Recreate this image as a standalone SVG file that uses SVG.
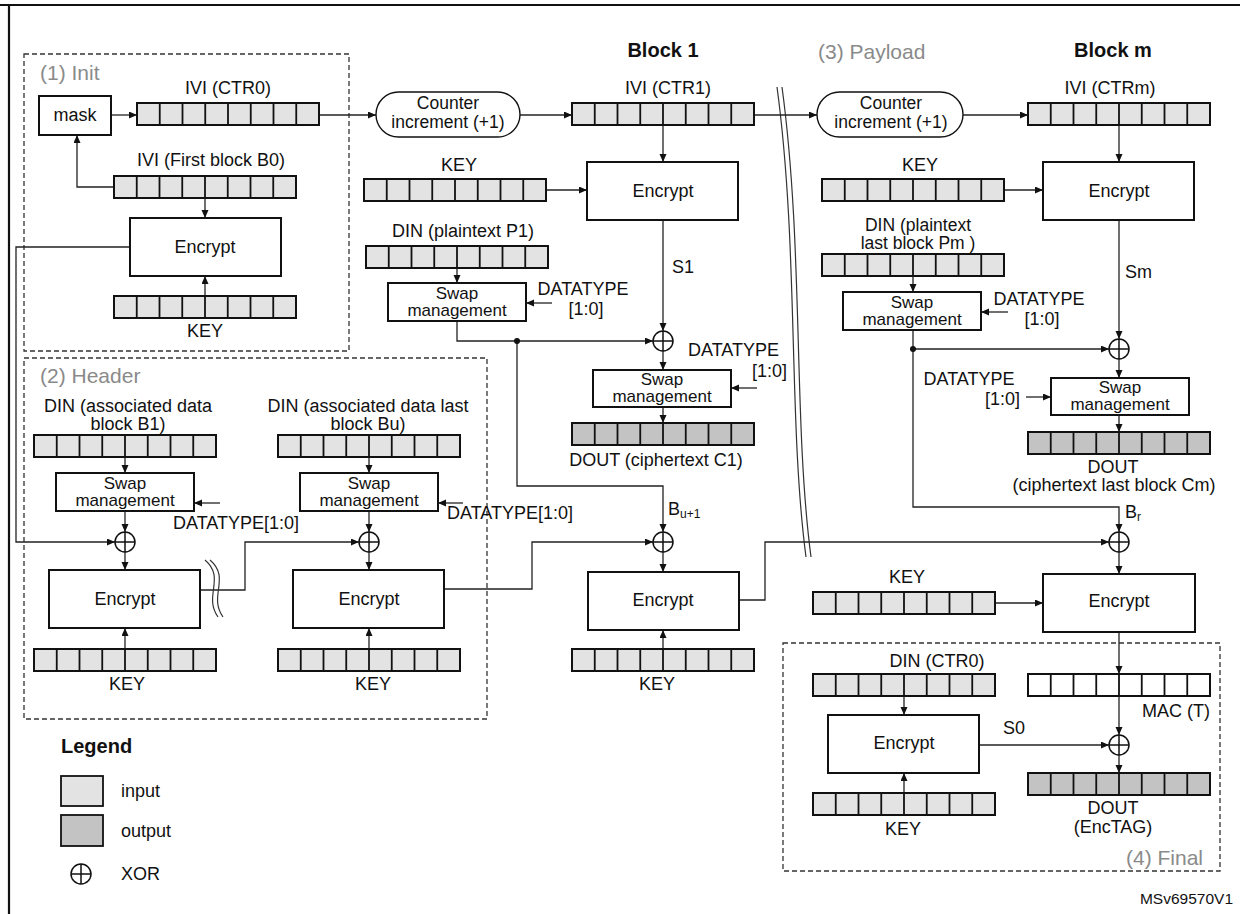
<svg xmlns="http://www.w3.org/2000/svg" xmlns:xlink="http://www.w3.org/1999/xlink" width="1240" height="914" viewBox="0 0 1240 914">
<style>
text{font-family:"Liberation Sans",Arial,sans-serif;font-size:18px;fill:#111}
.c{text-anchor:middle}
.e{text-anchor:end}
.sec{font-size:21px;fill:#8a8a8a}
.b{font-weight:bold;font-size:20px}
.sw{font-size:17px}
.ci{font-size:17.5px}
.box{fill:#fff;stroke:#111;stroke-width:2}
.dash{fill:none;stroke:#333;stroke-width:1.3;stroke-dasharray:5 3}
.con path{fill:none;stroke:#222;stroke-width:1.3}
.arr{marker-end:url(#ah)}
.brk{fill:none;stroke:#333;stroke-width:1.2}
</style>
<defs>
<marker id="ah" markerUnits="userSpaceOnUse" markerWidth="9" markerHeight="8" refX="8" refY="3.5" orient="auto">
<path d="M0,0 L8,3.5 L0,7 z" fill="#111"/>
</marker>
<path id="cells" d="M22.75,0V22M45.5,0V22M68.25,0V22M91,0V22M113.75,0V22M136.5,0V22M159.25,0V22" stroke="#111" stroke-width="1.8" fill="none"/>
<g id="regIn"><rect x="0" y="0" width="182" height="22" fill="#e3e3e3" stroke="#111" stroke-width="2"/><use href="#cells"/></g>
<g id="regOut"><rect x="0" y="0" width="182" height="22" fill="#c3c3c3" stroke="#111" stroke-width="2"/><use href="#cells"/></g>
<g id="regW"><rect x="0" y="0" width="182" height="22" fill="#fff" stroke="#111" stroke-width="2"/><use href="#cells"/></g>
<g id="xor"><circle cx="0" cy="0" r="10" fill="#fff" stroke="#111" stroke-width="1.5"/><path d="M-10,0H10M0,-10V10" stroke="#111" stroke-width="1.5"/></g>
</defs>
<rect width="1240" height="914" fill="#fff"/>
<!-- frame -->
<path d="M0,5H1240M9,5V914" stroke="#111" stroke-width="2.2" fill="none"/>

<!-- section frames -->
<g id="sec-init"><rect class="dash" x="24" y="54" width="325" height="297"/><text class="sec" x="40" y="80">(1) Init</text></g>
<g id="sec-header"><rect class="dash" x="24" y="358" width="463" height="361"/><text class="sec" x="40" y="383">(2) Header</text></g>
<g id="sec-payload"><text class="sec" x="818" y="59">(3) Payload</text></g>
<g id="sec-final"><rect class="dash" x="783" y="643" width="437" height="228"/><text class="sec e" x="1203" y="865">(4) Final</text></g>
<g id="hdr-block1"><text class="b c" x="663" y="57">Block 1</text></g>
<g id="hdr-blockm"><text class="b c" x="1113" y="57">Block m</text></g>

<!-- break marks -->
<g id="break-payload">
<path class="brk" d="M777,87 C799,250 788,420 806,557"/>
<path class="brk" d="M782,87 C804,250 793,420 811,557"/>
</g>

<!-- connectors -->
<g id="connectors" class="con">
<path class="arr" d="M111,115H137"/>
<path class="arr" d="M114,187H77V135"/>
<path class="arr" d="M205,198V218"/>
<path class="arr" d="M205,296V276"/>
<path class="arr" d="M319,115H376"/>
<path class="arr" d="M520,115H572"/>
<path class="arr" d="M663,125V162"/>
<path class="arr" d="M546,190H587"/>
<path class="arr" d="M457,268V283"/>
<path class="arr" d="M552,303H526"/>
<path class="arr" d="M663,220V331"/>
<path class="arr" d="M457,321V341H653"/>
<path class="arr" d="M663,351V370"/>
<path class="arr" d="M757,388H731"/>
<path class="arr" d="M663,407V423"/>
<path class="arr" d="M517,341V486H663V532"/>
<path class="arr" d="M444,589H532V542H653"/>
<path class="arr" d="M663,552V572"/>
<path class="arr" d="M663,649V630"/>
<path class="arr" d="M739,600H765V542H1109"/>
<path class="arr" d="M754,115H817"/>
<path class="arr" d="M963,115H1028"/>
<path class="arr" d="M1119,125V162"/>
<path class="arr" d="M1004,190H1043"/>
<path class="arr" d="M913,276V292"/>
<path class="arr" d="M1008,312H981"/>
<path class="arr" d="M1119,220V339"/>
<path class="arr" d="M913,330V349H1109"/>
<path class="arr" d="M1119,359V378"/>
<path class="arr" d="M1026,397H1051"/>
<path class="arr" d="M1119,415V432"/>
<path class="arr" d="M913,349V507H1119V532"/>
<path class="arr" d="M1119,552V574"/>
<path class="arr" d="M995,603H1043"/>
<path class="arr" d="M1119,632V674"/>
<path class="arr" d="M1119,696V735"/>
<path class="arr" d="M904,696V715"/>
<path class="arr" d="M904,793V773"/>
<path class="arr" d="M979,745H1109"/>
<path class="arr" d="M1119,755V773"/>
<path class="arr" d="M130,247H16V542H115"/>
<path class="arr" d="M125,457V473"/>
<path class="arr" d="M220,503H194"/>
<path class="arr" d="M125,511V532"/>
<path class="arr" d="M125,552V570"/>
<path class="arr" d="M125,649V628"/>
<path class="arr" d="M200,590H245V542H359"/>
<path class="arr" d="M369,457V473"/>
<path class="arr" d="M463,503H438"/>
<path class="arr" d="M369,511V532"/>
<path class="arr" d="M369,552V570"/>
<path class="arr" d="M369,649V628"/>
<circle cx="517" cy="341" r="3" fill="#111"/>
<circle cx="913" cy="349" r="3" fill="#111"/>
<text x="672" y="273">S1</text>
<text x="1125" y="278">Sm</text>
<text x="1003" y="734">S0</text>
<text x="668" y="515">B<tspan font-size="12" dy="3">u+1</tspan></text>
<text x="1125" y="518">B<tspan font-size="12" dy="3">r</tspan></text>
</g>

<g id="break-header">
<path class="brk" d="M205,560 C226,578 203,596 218,617"/>
<path class="brk" d="M210,560 C231,578 208,596 223,617"/>
</g>

<!-- Init -->
<g id="mask"><rect class="box" x="39" y="96" width="72" height="39"/><text class="c" x="75" y="121">mask</text></g>
<g id="ivi-ctr0"><use href="#regIn" x="137" y="103"/><text class="c" x="228" y="94">IVI (CTR0)</text></g>
<g id="ivi-b0"><use href="#regIn" x="114" y="176"/><text class="c" x="211" y="166">IVI (First block B0)</text></g>
<g id="enc-init"><rect class="box" x="130" y="218" width="151" height="58"/><text class="c" x="205" y="253">Encrypt</text></g>
<g id="key-init"><use href="#regIn" x="114" y="296"/><text class="c" x="205" y="337">KEY</text></g>

<!-- Block 1 -->
<g id="ctr-inc-1"><rect class="box" x="376" y="92" width="144" height="45" rx="22.5" ry="22.5" style="stroke-width:1.4"/><text class="c ci" x="448" y="109">Counter</text><text class="c ci" x="448" y="128">increment (+1)</text></g>
<g id="ivi-ctr1"><use href="#regIn" x="572" y="103"/><text class="c" x="668" y="94">IVI (CTR1)</text></g>
<g id="key-1"><use href="#regIn" x="364" y="179"/><text class="c" x="459" y="171">KEY</text></g>
<g id="enc-1"><rect class="box" x="587" y="162" width="151" height="58"/><text class="c" x="663" y="197">Encrypt</text></g>
<g id="din-p1"><use href="#regIn" x="366" y="246"/><text class="c" x="463" y="237">DIN (plaintext P1)</text></g>
<g id="swap-p1"><rect class="box" x="388" y="283" width="138" height="38"/><text class="c sw" x="457" y="299">Swap</text><text class="c sw" x="457" y="316">management</text></g>
<g id="dt-p1"><text class="c" x="583" y="295">DATATYPE</text><text class="c" x="586" y="315">[1:0]</text></g>
<g id="xor-c1"><use href="#xor" x="663" y="341"/></g>
<g id="dt-c1"><text x="688" y="356">DATATYPE</text><text class="e" x="787" y="377">[1:0]</text></g>
<g id="swap-c1"><rect class="box" x="593" y="370" width="138" height="37"/><text class="c sw" x="662" y="385">Swap</text><text class="c sw" x="662" y="402">management</text></g>
<g id="dout-c1"><use href="#regOut" x="572" y="423"/><text class="c" x="656" y="466">DOUT (ciphertext C1)</text></g>
<g id="xor-bu1"><use href="#xor" x="663" y="542"/></g>
<g id="enc-bu1"><rect class="box" x="588" y="572" width="151" height="58"/><text class="c" x="663" y="606">Encrypt</text></g>
<g id="key-bu1"><use href="#regIn" x="572" y="649"/><text class="c" x="657" y="690">KEY</text></g>

<!-- Block m -->
<g id="ctr-inc-m"><rect class="box" x="817" y="92" width="146" height="45" rx="22.5" ry="22.5" style="stroke-width:1.4"/><text class="c ci" x="891" y="109">Counter</text><text class="c ci" x="891" y="128">increment (+1)</text></g>
<g id="ivi-ctrm"><use href="#regIn" x="1028" y="103"/><text class="c" x="1110" y="94">IVI (CTRm)</text></g>
<g id="key-m"><use href="#regIn" x="822" y="179"/><text class="c" x="920" y="171">KEY</text></g>
<g id="enc-m"><rect class="box" x="1043" y="162" width="151" height="58"/><text class="c" x="1119" y="197">Encrypt</text></g>
<g id="din-pm"><use href="#regIn" x="822" y="254"/><text class="c ci" x="918" y="231">DIN (plaintext</text><text class="c ci" x="918" y="249">last block Pm )</text></g>
<g id="swap-pm"><rect class="box" x="843" y="292" width="138" height="38"/><text class="c sw" x="912" y="308">Swap</text><text class="c sw" x="912" y="325">management</text></g>
<g id="dt-pm"><text class="c" x="1039" y="305">DATATYPE</text><text class="c" x="1042" y="325">[1:0]</text></g>
<g id="xor-cm"><use href="#xor" x="1119" y="349"/></g>
<g id="dt-cm"><text class="c" x="969" y="385">DATATYPE</text><text class="e" x="1020" y="405">[1:0]</text></g>
<g id="swap-cm"><rect class="box" x="1051" y="378" width="138" height="37"/><text class="c sw" x="1120" y="393">Swap</text><text class="c sw" x="1120" y="410">management</text></g>
<g id="dout-cm"><use href="#regOut" x="1028" y="432"/><text class="c" x="1113" y="473">DOUT</text><text class="c" x="1114" y="491">(ciphertext last block Cm)</text></g>
<g id="xor-br"><use href="#xor" x="1119" y="542"/></g>
<g id="key-fin"><use href="#regIn" x="813" y="592"/><text class="c" x="907" y="583">KEY</text></g>
<g id="enc-fin"><rect class="box" x="1043" y="574" width="152" height="58"/><text class="c" x="1119" y="607">Encrypt</text></g>

<!-- Header -->
<g id="din-b1"><use href="#regIn" x="34" y="435"/><text class="c" x="128" y="412">DIN (associated data</text><text class="c" x="128" y="430">block B1)</text></g>
<g id="swap-b1"><rect class="box" x="56" y="473" width="138" height="38"/><text class="c sw" x="125" y="489">Swap</text><text class="c sw" x="125" y="506">management</text></g>
<g id="dt-b1"><text x="173" y="529">DATATYPE[1:0]</text></g>
<g id="xor-b1"><use href="#xor" x="125" y="542"/></g>
<g id="enc-b1"><rect class="box" x="49" y="570" width="151" height="58"/><text class="c" x="125" y="605">Encrypt</text></g>
<g id="key-b1"><use href="#regIn" x="34" y="649"/><text class="c" x="127" y="690">KEY</text></g>
<g id="din-bu"><use href="#regIn" x="278" y="435"/><text class="c" x="368" y="412">DIN (associated data last</text><text class="c" x="368" y="430">block Bu)</text></g>
<g id="swap-bu"><rect class="box" x="300" y="473" width="138" height="38"/><text class="c sw" x="369" y="489">Swap</text><text class="c sw" x="369" y="506">management</text></g>
<g id="dt-bu"><text x="447" y="519">DATATYPE[1:0]</text></g>
<g id="xor-bu"><use href="#xor" x="369" y="542"/></g>
<g id="enc-bu"><rect class="box" x="293" y="570" width="151" height="58"/><text class="c" x="369" y="605">Encrypt</text></g>
<g id="key-bu"><use href="#regIn" x="278" y="649"/><text class="c" x="373" y="690">KEY</text></g>

<!-- Final -->
<g id="din-ctr0"><use href="#regIn" x="813" y="674"/><text class="c" x="937" y="667">DIN (CTR0)</text></g>
<g id="enc-s0"><rect class="box" x="828" y="715" width="151" height="58"/><text class="c" x="904" y="749">Encrypt</text></g>
<g id="key-s0"><use href="#regIn" x="813" y="793"/><text class="c" x="903" y="835">KEY</text></g>
<g id="mac"><use href="#regW" x="1028" y="674"/><text class="e" x="1210" y="717">MAC (T)</text></g>
<g id="xor-tag"><use href="#xor" x="1119" y="745"/></g>
<g id="dout-tag"><use href="#regOut" x="1028" y="773"/><text class="c" x="1113" y="814">DOUT</text><text class="c" x="1113" y="833">(EncTAG)</text></g>

<!-- Legend -->
<g id="legend">
<text class="b" x="61" y="753">Legend</text>
<rect x="61" y="776" width="42" height="30" fill="#e3e3e3" stroke="#111" stroke-width="1.8"/>
<text x="121" y="797">input</text>
<rect x="61" y="815" width="42" height="31" fill="#c3c3c3" stroke="#111" stroke-width="1.8"/>
<text x="121" y="837">output</text>
<use href="#xor" x="81" y="874"/>
<text x="121" y="880">XOR</text>
</g>
<text class="e" x="1233" y="904" style="font-size:15.5px">MSv69570V1</text>
</svg>
